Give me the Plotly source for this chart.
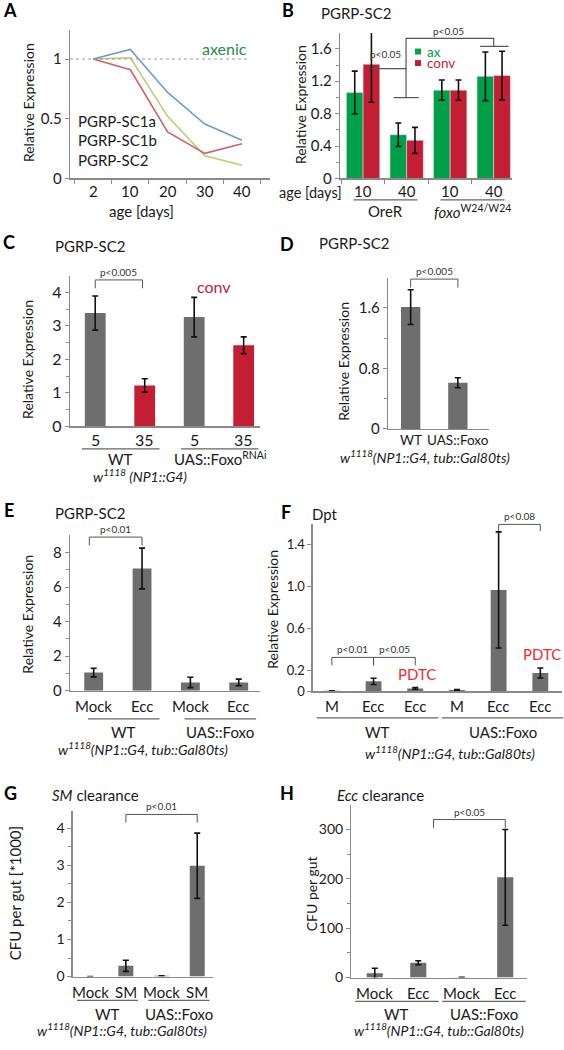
import plotly.graph_objects as go

W, H = 564, 1050
FONT = "Lato"
TXT = "#1a1a1a"
AXC = "#8a8a8a"
BRK = "#555555"
GREY = "#6e6e6e"
RED = "#c41e34"
GREEN = "#00a04a"
PDTC_RED = "#ee2b30"

# ---------------- data ----------------
# A: relative expression vs age (axenic)
a_ages = ["2", "10", "20", "30", "40"]
a_names = ["PGRP-SC1a", "PGRP-SC1b", "PGRP-SC2"]
a_sc1a = [1.0, 1.08, 0.72, 0.455, 0.32]
a_sc1b = [1.0, 0.91, 0.39, 0.21, 0.29]
a_sc2 = [1.0, 1.01, 0.52, 0.19, 0.11]

# B: PGRP-SC2, ax vs conv
b_ages = ["10", "40", "10", "40"]
b_groups = ["OreR", "<i>foxo</i><sup>W24/W24</sup>"]
b_ax = [1.06, 0.54, 1.09, 1.26]
b_ax_err = [0.265, 0.145, 0.125, 0.3]
b_conv = [1.41, 0.47, 1.09, 1.27]
b_conv_err = [0.47, 0.16, 0.125, 0.3]

# C: PGRP-SC2 conv, age 5 vs 35
c_ages = ["5", "35", "5", "35"]
c_groups = ["WT", "UAS::Foxo<sup>RNAi</sup>"]
c_vals = [3.38, 1.22, 3.26, 2.42]
c_err = [0.51, 0.2, 0.59, 0.25]

# D: PGRP-SC2
d_labels = ["WT", "UAS::Foxo"]
d_vals = [1.61, 0.61]
d_err = [0.23, 0.066]

# E: PGRP-SC2 after infection
e_labels = ["Mock", "Ecc", "Mock", "Ecc"]
e_groups = ["WT", "UAS::Foxo"]
e_vals = [1.05, 7.08, 0.48, 0.48]
e_err = [0.25, 1.18, 0.3, 0.19]

# F: Dpt
f_labels = ["M", "Ecc", "Ecc", "M", "Ecc", "Ecc"]
f_groups = ["WT", "UAS::Foxo"]
f_vals = [0.005, 0.095, 0.028, 0.012, 0.968, 0.175]
f_err = [0.0, 0.03, 0.008, 0.004, 0.555, 0.048]
f_pdtc = [2, 5]

# G: SM clearance (CFU per gut, *1000)
g_labels = ["Mock", "SM", "Mock", "SM"]
g_groups = ["WT", "UAS::Foxo"]
g_vals = [0.0, 0.29, 0.02, 2.99]
g_err = [0.0, 0.15, 0.0, 0.88]

# H: Ecc clearance (CFU per gut)
h_labels = ["Mock", "Ecc", "Mock", "Ecc"]
h_groups = ["WT", "UAS::Foxo"]
h_vals = [8.7, 30.0, 0.5, 203.0]
h_err = [10.0, 4.0, 0.0, 97.0]

GENO = "<i>w<sup>1118</sup>(NP1::G4, tub::Gal80ts)</i>"

# ---------------- layout geometry (pixels) ----------------
PANELS = {
    "A": dict(sfx="", box=(70, 270, 30, 180), xr=(-0.62, 4.75), yr=(0, 1.245)),
    "B": dict(sfx="2", box=(340, 512, 33.3, 180), xr=(-0.53, 3.42), yr=(0, 1.795)),
    "C": dict(sfx="3", box=(70, 260, 278.3, 430), xr=(-0.51, 3.33), yr=(0, 4.49)),
    "D": dict(sfx="4", box=(388, 489, 280, 432.7), xr=(-0.48, 1.66), yr=(0, 2.0)),
    "E": dict(sfx="5", box=(70, 260, 540, 696.7), xr=(-0.49, 3.44), yr=(0, 9.0)),
    "F": dict(sfx="6", box=(312.7, 562, 528.3, 697.3), xr=(-0.46, 5.52), yr=(0, 1.6)),
    "G": dict(sfx="7", box=(72.7, 213.3, 818.3, 985), xr=(-0.49, 3.45), yr=(0, 4.46)),
    "H": dict(sfx="8", box=(351.3, 527, 811.7, 986), xr=(-0.54, 3.5), yr=(0, 350)),
}


def X(p, x):
    l, r, t, b = PANELS[p]["box"]
    r0, r1 = PANELS[p]["xr"]
    return (l + (x - r0) / (r1 - r0) * (r - l)) / W


def Y(p, y):
    l, r, t, b = PANELS[p]["box"]
    r0, r1 = PANELS[p]["yr"]
    return 1 - (b - (y - r0) / (r1 - r0) * (b - t)) / H


def PX(v):
    return v / W


def PY(v):
    return 1 - v / H


fig = go.Figure()
annotations = []
shapes = []


def ann(text, x, y, size=14, color=TXT, xanchor="center", yanchor="middle", angle=0):
    annotations.append(dict(text=text, x=x, y=y, xref="paper", yref="paper", showarrow=False,
                            xanchor=xanchor, yanchor=yanchor, textangle=angle,
                            font=dict(family=FONT, size=size, color=color)))


def line(x0, y0, x1, y1, color=BRK, width=1.0):
    shapes.append(dict(type="line", x0=x0, y0=y0, x1=x1, y1=y1, xref="paper", yref="paper",
                       line=dict(color=color, width=width)))


PSIZE = 10


def bracket(p, x1, x2, y, drop, text):
    path = "M {a},{b} L {a},{c} L {d},{c} L {d},{b}".format(
        a=X(p, x1), b=Y(p, y - drop), c=Y(p, y), d=X(p, x2))
    shapes.append(dict(type="path", path=path, xref="paper", yref="paper",
                       line=dict(color=BRK, width=1)))
    ann(text, (X(p, x1) + X(p, x2)) / 2, Y(p, y), size=PSIZE, color="#333", yanchor="bottom")


def axes(p, xtickvals, xticktext, ytickvals, yticktext, label_y, yminor=None, xminor=None,
         xsize=15, ysize=15):
    cfg = PANELS[p]
    l, r, t, b = cfg["box"]
    s = cfg["sfx"]
    xa = dict(domain=[l / W, r / W], range=list(cfg["xr"]), anchor="y" + s,
              showline=True, linecolor=AXC, linewidth=1.3, showgrid=False, zeroline=False,
              tickvals=xtickvals, ticks="", showticklabels=False, fixedrange=True)
    if xminor is not None:
        xa["minor"] = dict(tickvals=xminor, ticks="outside", ticklen=4, tickcolor=AXC, tickwidth=1)
    ya = dict(domain=[1 - b / H, 1 - t / H], range=list(cfg["yr"]), anchor="x" + s,
              showline=True, linecolor=AXC, linewidth=1.3, showgrid=False, zeroline=False,
              tickvals=ytickvals, ticktext=yticktext, ticks="outside", ticklen=4,
              tickcolor=AXC, tickwidth=1,
              tickfont=dict(family=FONT, size=ysize, color=TXT), fixedrange=True)
    if yminor is not None:
        ya["minor"] = dict(tickvals=yminor, ticks="outside", ticklen=3, tickcolor=AXC, tickwidth=1)
    # category labels placed under the axis at each category position
    for v, txt in zip(xtickvals, xticktext):
        ann(txt, X(p, v), PY(label_y), size=xsize)
    return xa, ya


layout_axes = {}


def set_axes(p, xa, ya):
    s = PANELS[p]["sfx"]
    layout_axes["xaxis" + s] = xa
    layout_axes["yaxis" + s] = ya


def ref(p):
    s = PANELS[p]["sfx"]
    return "x" + s, "y" + s


ERR = dict(type="data", color="#111", thickness=1.6, width=3)


def bar_trace(p, vals, errs, colors, width):
    xr_, yr_ = ref(p)
    fig.add_trace(go.Bar(x=list(range(len(vals))), y=vals,
                         error_y=dict(array=errs, **ERR), marker=dict(color=colors, line=dict(width=0)),
                         width=width, xaxis=xr_, yaxis=yr_, showlegend=False))


def bound_ticks(n):
    return [i - 0.5 for i in range(n + 1)]


def groups_under(p, groups, idx_pairs, y_line, y_text, ext_l, ext_r):
    for g, (i0, i1) in zip(groups, idx_pairs):
        x0 = X(p, i0 - ext_l)
        x1 = X(p, i1 + ext_r)
        line(x0, PY(y_line), x1, PY(y_line), color="#666", width=1.3)
        ann(g, (x0 + x1) / 2, PY(y_text), size=15)


# ---------------- Panel A ----------------
a_x = list(range(len(a_ages)))
for vals, col in zip([a_sc2, a_sc1b, a_sc1a], ["#bccd72", "#d0606b", "#6d9ccb"]):
    fig.add_trace(go.Scatter(x=a_x, y=vals, mode="lines", line=dict(color=col, width=1.6),
                             xaxis="x", yaxis="y", showlegend=False))
xa, ya = axes("A", a_x, a_ages, [0, 0.5, 1], ["0", "0.5", "1"], 193,
              xminor=bound_ticks(len(a_ages)), xsize=15, ysize=15)
set_axes("A", xa, ya)
shapes.append(dict(type="line", x0=PANELS["A"]["xr"][0], x1=4.2, y0=1, y1=1, xref="x", yref="y",
                   line=dict(color="#9a9a9a", width=1, dash="dot")))
ann("axenic", PX(224), PY(49), size=16, color="#2a8a4a")
for k, name in enumerate(a_names):
    ann(name, PX(76), PY(122 + 19.5 * k), size=15, xanchor="left")
ann("age [days]", PX(141), PY(213), size=15)
ann("Relative Expression", PX(28), PY(104), size=14, angle=-90)
ann("<b>A</b>", PX(10), PY(10), size=18, color="#000")

# ---------------- Panel B ----------------
bx = list(range(len(b_ages)))
fig.add_trace(go.Bar(x=bx, y=b_ax, error_y=dict(array=b_ax_err, **ERR), marker=dict(color=GREEN),
                     xaxis="x2", yaxis="y2", showlegend=False, name="ax"))
fig.add_trace(go.Bar(x=bx, y=b_conv, error_y=dict(array=b_conv_err, **ERR), marker=dict(color=RED),
                     xaxis="x2", yaxis="y2", showlegend=False, name="conv"))
xa, ya = axes("B", bx, b_ages, [0, 0.4, 0.8, 1.2, 1.6], ["0", "0.4", "0.8", "1.2", "1.6"], 193,
              yminor=[0.2, 0.6, 1.0, 1.4], xminor=bound_ticks(len(b_ages)), xsize=15, ysize=15)
set_axes("B", xa, ya)
# significance brackets (data units of panel B)
b_paths = [
    [(0.19, 1.356), (0.987, 1.356)],
    [(0.70, 0.998), (1.28, 0.998)],
    [(0.987, 0.998), (0.987, 1.73), (3.0, 1.73), (3.0, 1.63)],
    [(2.69, 1.63), (3.34, 1.63)],
]
for pts in b_paths:
    path = "M " + " L ".join("{},{}".format(X("B", a), Y("B", c)) for a, c in pts)
    shapes.append(dict(type="path", path=path, xref="paper", yref="paper",
                       line=dict(color=BRK, width=1.2)))
ann("p<0.05", X("B", 0.52), Y("B", 1.53), size=PSIZE, color="#333")
ann("p<0.05", X("B", 1.97), Y("B", 1.82), size=PSIZE, color="#333")
# legend
for k, (lab, col) in enumerate([("ax", GREEN), ("conv", RED)]):
    yc = 52.0 + 11.6 * k
    shapes.append(dict(type="rect", x0=PX(415), x1=PX(421), y0=PY(yc - 3), y1=PY(yc + 3),
                       xref="paper", yref="paper", fillcolor=col, line=dict(width=0)))
    ann(lab, PX(425), PY(yc), size=13.5, color=col, xanchor="left")
ann("age [days]", PX(344), PY(194), size=14.5, xanchor="right")
groups_under("B", b_groups, [(0, 1), (2, 3)], 201.7, 213, 0.22, 0.25)
ann("Relative Expression", PX(300), PY(106), size=14, angle=-90)
ann("PGRP-SC2", PX(319), PY(13.5), size=15, xanchor="left")
ann("<b>B</b>", PX(288), PY(10), size=18, color="#000")

# ---------------- Panel C ----------------
bar_trace("C", c_vals, c_err, [GREY, RED, GREY, RED], 0.42)
xa, ya = axes("C", list(range(len(c_ages))), c_ages, [0, 1, 2, 3, 4], ["0", "1", "2", "3", "4"], 443,
              yminor=[0.5, 1.5, 2.5, 3.5], xsize=16, ysize=16)
set_axes("C", xa, ya)
bracket("C", 0, 0.955, 4.37, 0.25, "p<0.005")
ann("conv", PX(213.5), PY(288.5), size=16, color="#c0203a")
groups_under("C", c_groups, [(0, 1), (2, 3)], 452.7, 462.5, 0.27, 0.3)
ann("<i>w<sup>1118</sup> (NP1::G4)</i>", PX(140), PY(480), size=14)
ann("Relative Expression", PX(28), PY(363), size=14, angle=-90)
ann("PGRP-SC2", PX(53), PY(248), size=15, xanchor="left")
ann("<b>C</b>", PX(9), PY(244), size=18, color="#000")

# ---------------- Panel D ----------------
bar_trace("D", d_vals, d_err, [GREY, GREY], 0.41)
xa, ya = axes("D", list(range(len(d_labels))), d_labels, [0, 0.8, 1.6], ["0", "0.8", "1.6"], 443.5,
              yminor=[0.4, 1.2], xsize=13.5, ysize=15)
set_axes("D", xa, ya)
bracket("D", 0, 1, 1.98, 0.11, "p<0.005")
ann(GENO, PX(425), PY(460), size=14)
ann("Relative Expression", PX(344), PY(365), size=14, angle=-90)
ann("PGRP-SC2", PX(317), PY(245.5), size=15, xanchor="left")
ann("<b>D</b>", PX(287), PY(246), size=18, color="#000")

# ---------------- Panel E ----------------
bar_trace("E", e_vals, e_err, [GREY] * 4, 0.39)
xa, ya = axes("E", list(range(len(e_labels))), e_labels, [0, 2, 4, 6, 8], ["0", "2", "4", "6", "8"], 712,
              yminor=[1, 3, 5, 7], xsize=15, ysize=15)
set_axes("E", xa, ya)
bracket("E", -0.09, 1.0, 8.9, 0.48, "p<0.01")
groups_under("E", e_groups, [(0, 1), (2, 3)], 725, 738.5, 0.12, 0.36)
ann(GENO, PX(143), PY(755), size=14)
ann("Relative Expression", PX(28), PY(620), size=14, angle=-90)
ann("PGRP-SC2", PX(53), PY(517), size=15, xanchor="left")
ann("<b>E</b>", PX(9), PY(514), size=18, color="#000")

# ---------------- Panel F ----------------
bar_trace("F", f_vals, f_err, [GREY] * 6, 0.38)
xa, ya = axes("F", list(range(len(f_labels))), f_labels, [0, 0.2, 0.6, 1.0, 1.4],
              ["0", "0.2", "0.6", "1.0", "1.4"], 712, xsize=15, ysize=13)
set_axes("F", xa, ya)
bracket("F", 0, 1, 0.324, 0.076, "p<0.01")
bracket("F", 1, 2, 0.324, 0.076, "p<0.05")
bracket("F", 4, 5, 1.594, 0.064, "p<0.08")
for i in f_pdtc:
    ann("PDTC", X("F", i) + PX(2), Y("F", f_vals[i] + f_err[i]) + 14 / H, size=15,
        color=PDTC_RED, yanchor="middle")
groups_under("F", f_groups, [(0, 2), (3, 5)], 724, 738.5, 0.36, 0.55)
ann(GENO, PX(450), PY(759), size=14)
ann("Relative Expression", PX(273), PY(615), size=14, angle=-90)
ann("Dpt", PX(310), PY(518), size=15, xanchor="left")
ann("<b>F</b>", PX(286), PY(516), size=18, color="#000")

# ---------------- Panel G ----------------
bar_trace("G", g_vals, g_err, [GREY] * 4, 0.42)
xa, ya = axes("G", list(range(len(g_labels))), g_labels, [0, 1, 2, 3, 4], ["0", "1", "2", "3", "4"], 1001,
              yminor=[0.5, 1.5, 2.5, 3.5], xsize=15, ysize=14)
set_axes("G", xa, ya)
bracket("G", 1, 3, 4.375, 0.22, "p<0.01")
groups_under("G", g_groups, [(0, 1), (2, 3)], 1009, 1023, 0.37, 0.34)
ann(GENO, PX(122), PY(1038), size=14)
ann("CFU per gut [*1000]", PX(15), PY(901), size=15, angle=-90)
ann("<i>SM</i> clearance", PX(50), PY(802), size=15, xanchor="left")
ann("<b>G</b>", PX(10), PY(800), size=18, color="#000")

# ---------------- Panel H ----------------
bar_trace("H", h_vals, h_err, [GREY] * 4, 0.37)
xa, ya = axes("H", list(range(len(h_labels))), h_labels, [0, 100, 200, 300], ["0", "100", "200", "300"], 1001.5,
              yminor=[50, 150, 250], xsize=15, ysize=14)
set_axes("H", xa, ya)
bracket("H", 1.35, 3, 320, 17, "p<0.05")
groups_under("H", h_groups, [(0, 1), (2, 3)], 1010, 1023, 0.45, 0.47)
ann(GENO, PX(439), PY(1038), size=14)
ann("CFU per gut", PX(311), PY(902), size=14, angle=-90)
ann("<i>Ecc</i> clearance", PX(335), PY(802), size=15, xanchor="left")
ann("<b>H</b>", PX(287), PY(800), size=18, color="#000")

fig.update_layout(
    width=W, height=H, margin=dict(l=0, r=0, t=0, b=0),
    paper_bgcolor="white", plot_bgcolor="white",
    barmode="group", bargap=0.234, bargroupgap=0,
    font=dict(family=FONT, size=14, color=TXT),
    showlegend=False, annotations=annotations, shapes=shapes,
    **layout_axes,
)
fig.write_html("out.html", config={"displayModeBar": False, "staticPlot": True},
               post_script="document.body.style.margin='0';document.body.style.overflow='hidden';")
